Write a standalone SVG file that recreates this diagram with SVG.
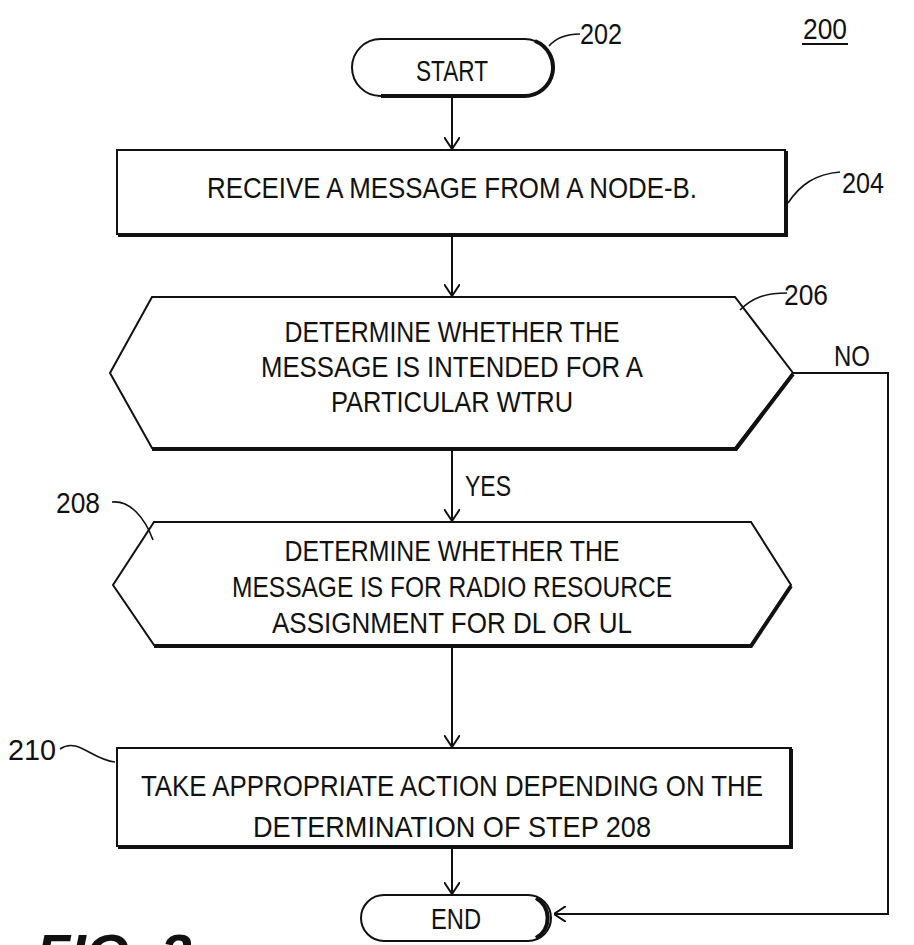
<svg xmlns="http://www.w3.org/2000/svg" width="914" height="945" viewBox="0 0 914 945">
<defs>
<style>
.s{fill:#fff;stroke:#111;stroke-width:2}
.sh{fill:none;stroke:#111;stroke-width:4}
.t{font-family:"Liberation Sans",Arial,sans-serif;font-size:30px;fill:#111;text-anchor:middle}
.l{font-family:"Liberation Sans",Arial,sans-serif;font-size:29px;fill:#111}
.c{fill:none;stroke:#111;stroke-width:2}
.ld{fill:none;stroke:#111;stroke-width:1.6}
</style>
<marker id="ah" viewBox="0 0 12 16" refX="12" refY="8" markerWidth="12" markerHeight="16" markerUnits="userSpaceOnUse" orient="auto">
<path d="M0,0 L12,8 L0,16" fill="none" stroke="#111" stroke-width="2"/>
</marker>
</defs>
<rect width="914" height="945" fill="#fff"/>

<g id="connectors">
<line class="c" x1="452" y1="97" x2="452" y2="149" marker-end="url(#ah)"/>
<line class="c" x1="452" y1="236" x2="452" y2="296" marker-end="url(#ah)"/>
<line class="c" x1="452" y1="450" x2="452" y2="521" marker-end="url(#ah)"/>
<line class="c" x1="452" y1="647" x2="452" y2="747" marker-end="url(#ah)"/>
<line class="c" x1="452" y1="848" x2="452" y2="894" marker-end="url(#ah)"/>
<polyline class="c" points="793,373 888,373 888,914 554,914" marker-end="url(#ah)"/>
<text class="l" x="834" y="366" textLength="36" lengthAdjust="spacingAndGlyphs">NO</text>
<text class="l" x="465" y="496" textLength="46" lengthAdjust="spacingAndGlyphs">YES</text>
</g>

<g id="n202">
<rect class="s" x="352" y="39" width="201" height="57" rx="28.5"/>
<path class="sh" d="M535,41 A28.5,28.5 0 0 1 524.5,96 L381,96"/>
<text class="t" x="452" y="81" textLength="72" lengthAdjust="spacingAndGlyphs">START</text>
<path class="ld" d="M549,46 C556,38 565,34 580,34"/>
<text class="l" x="580" y="44" textLength="42" lengthAdjust="spacingAndGlyphs">202</text>
</g>

<g id="n204">
<polyline class="sh" points="786,151 786,235 118,235"/>
<rect class="s" x="117" y="150" width="668" height="84"/>
<text class="t" x="452" y="198" textLength="490" lengthAdjust="spacingAndGlyphs">RECEIVE A MESSAGE FROM A NODE-B.</text>
<path class="ld" d="M788,203 C800,185 815,174 840,172"/>
<text class="l" x="842" y="193" textLength="42" lengthAdjust="spacingAndGlyphs">204</text>
</g>

<g id="n206">
<polygon class="s" points="152,297 735,297 793,373 735,448 152,448 110,373"/>
<polyline class="sh" points="793,374 736,449 152,449"/>
<text class="t" x="452" y="342" textLength="335" lengthAdjust="spacingAndGlyphs">DETERMINE WHETHER THE</text>
<text class="t" x="452" y="377" textLength="382" lengthAdjust="spacingAndGlyphs">MESSAGE IS INTENDED FOR A</text>
<text class="t" x="452" y="412" textLength="242" lengthAdjust="spacingAndGlyphs">PARTICULAR WTRU</text>
<path class="ld" d="M740,310 C752,298 765,293 787,293"/>
<text class="l" x="784" y="305" textLength="44" lengthAdjust="spacingAndGlyphs">206</text>
</g>

<g id="n208">
<polygon class="s" points="154,522 751,522 791,585 751,645 154,645 113,585"/>
<polyline class="sh" points="791,586 751,646 154,646"/>
<text class="t" x="452" y="561" textLength="335" lengthAdjust="spacingAndGlyphs">DETERMINE WHETHER THE</text>
<text class="t" x="452" y="597" textLength="440" lengthAdjust="spacingAndGlyphs">MESSAGE IS FOR RADIO RESOURCE</text>
<text class="t" x="452" y="633" textLength="360" lengthAdjust="spacingAndGlyphs">ASSIGNMENT FOR DL OR UL</text>
<path class="ld" d="M112,502 C130,500 145,518 153,540"/>
<text class="l" x="56" y="513" textLength="44" lengthAdjust="spacingAndGlyphs">208</text>
</g>

<g id="n210">
<rect class="s" x="117" y="748" width="674" height="98"/>
<polyline class="sh" points="791,749 791,847 118,847"/>
<text class="t" x="452" y="796" textLength="622" lengthAdjust="spacingAndGlyphs">TAKE APPROPRIATE ACTION DEPENDING ON THE</text>
<text class="t" x="452" y="837" textLength="398" lengthAdjust="spacingAndGlyphs">DETERMINATION OF STEP 208</text>
<path class="ld" d="M60,749 C78,737 92,760 115,762"/>
<text class="l" x="8" y="760" textLength="48" lengthAdjust="spacingAndGlyphs">210</text>
</g>

<g id="n212">
<rect class="s" x="361" y="895" width="190" height="46" rx="23"/>
<path class="sh" d="M536,898 A23,23 0 0 1 536,938"/>
<text class="t" x="456" y="929" textLength="50" lengthAdjust="spacingAndGlyphs">END</text>
</g>

<g id="labels">
<text class="l" x="803" y="39" textLength="44" lengthAdjust="spacingAndGlyphs">200</text>
<line x1="802" y1="44" x2="848" y2="44" stroke="#111" stroke-width="2"/>
<text x="36" y="973" style="font-family:'Liberation Sans',Arial,sans-serif;font-size:56px;font-weight:bold;font-style:italic;fill:#111">FIG. 2</text>
</g>
</svg>
